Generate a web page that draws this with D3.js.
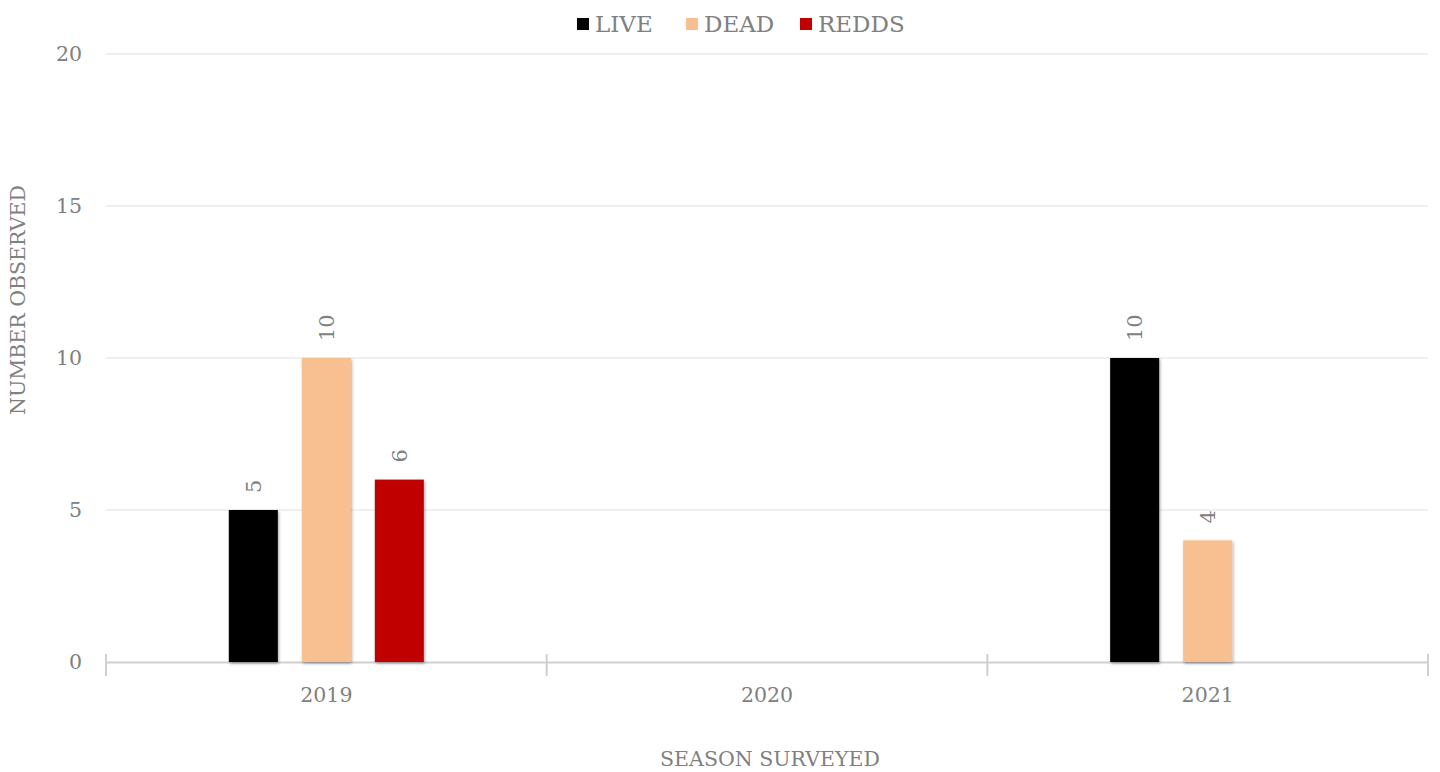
<!DOCTYPE html>
<html><head><meta charset="utf-8">
<script src="https://cdn.jsdelivr.net/npm/d3@7"></script>
<style>body{margin:0;background:#fff}svg{display:block}</style>
</head><body>
<svg id="c" width="1440" height="772"></svg>
<script>
const categories = ["2019", "2020", "2021"];
const seriesNames = ["LIVE", "DEAD", "REDDS"];
const live = [5, 0, 10];
const dead = [10, 0, 4];
const redds = [6, 0, 0];
const yTicks = [0, 5, 10, 15, 20];
const colors = ["#000000", "#f8c090", "#c00000"];
const seriesValues = [live, dead, redds];

const svg = d3.select("#c");
const font = "DejaVu Serif";
const textColor = "#808080";
const m = {l: 106, r: 1428, t: 54, b: 662};

const defs = svg.append("defs");
const f = defs.append("filter").attr("id", "sh").attr("x", "-20%").attr("y", "-5%").attr("width", "150%").attr("height", "115%");
f.append("feDropShadow").attr("dx", 1).attr("dy", 1.5).attr("stdDeviation", 1.5).attr("flood-color", "#000").attr("flood-opacity", 0.35);

const x = d3.scaleBand().domain(categories).range([m.l, m.r]).paddingInner(0).paddingOuter(0);
const y = d3.scaleLinear().domain([0, 20]).range([m.b, m.t]);

// gridlines
svg.append("g").selectAll("line").data(yTicks.filter(d => d > 0)).join("line")
  .attr("x1", m.l).attr("x2", m.r).attr("y1", d => y(d)).attr("y2", d => y(d))
  .attr("stroke", "#ebebeb").attr("stroke-width", 1.5);

// y tick labels
svg.append("g").selectAll("text").data(yTicks).join("text")
  .attr("x", 82).attr("y", d => y(d)).attr("dy", "0.35em").attr("text-anchor", "end")
  .attr("font-family", font).attr("font-size", 20.5).attr("fill", textColor).text(d => d);

// x axis
const xa = svg.append("g").attr("transform", `translate(0,${m.b})`)
  .call(d3.axisBottom(x).tickSize(0).tickPadding(25));
xa.select(".domain").attr("stroke", "#d0d0d0").attr("stroke-width", 2);
xa.selectAll("text").attr("font-family", font).attr("font-size", 20.5).attr("fill", textColor);
const bounds = categories.map(c => x(c)).concat([x(categories[categories.length-1]) + x.bandwidth()]);
svg.append("g").selectAll("line").data(bounds).join("line")
  .attr("x1", d => d).attr("x2", d => d).attr("y1", m.b - 8).attr("y2", m.b + 14)
  .attr("stroke", "#d0d0d0").attr("stroke-width", 2);

// bars
const bw = 49;
const offset = 73;
const data = [];
categories.forEach((c, i) => seriesNames.forEach((s, j) => data.push({c, s, j, v: seriesValues[j][i]})));
const cx = d => x(d.c) + x.bandwidth() / 2 + (d.j - 1) * offset;
svg.append("g").selectAll("rect").data(data.filter(d => d.v > 0)).join("rect")
  .attr("x", d => cx(d) - bw / 2).attr("width", bw)
  .attr("y", d => y(d.v)).attr("height", d => y(0) - y(d.v))
  .attr("fill", d => colors[d.j]).attr("filter", "url(#sh)");

// value labels
svg.append("g").selectAll("text").data(data.filter(d => d.v > 0)).join("text")
  .attr("transform", d => `translate(${cx(d)},${y(d.v) - 17}) rotate(-90)`)
  .attr("dy", "0.35em").attr("text-anchor", "start")
  .attr("font-family", font).attr("font-size", 21).attr("fill", textColor).text(d => d.v);

// axis titles
svg.append("text").attr("x", (m.l + m.r) / 2 + 3).attr("y", 766)
  .attr("text-anchor", "middle").attr("font-family", font).attr("font-size", 20.5).attr("fill", textColor)
  .text("SEASON SURVEYED");
svg.append("text").attr("transform", "translate(25,300) rotate(-90)")
  .attr("text-anchor", "middle").attr("font-family", font).attr("font-size", 20.5).attr("fill", textColor)
  .text("NUMBER OBSERVED");

// legend
const lg = svg.append("g");
const legendX = [577, 686, 800];
seriesNames.forEach((s, j) => {
  const g = lg.append("g").attr("transform", `translate(${legendX[j]},24)`);
  g.append("rect").attr("x", 0).attr("y", -6).attr("width", 12).attr("height", 12).attr("fill", colors[j]);
  g.append("text").attr("x", 18).attr("dy", "0.35em").attr("font-family", font).attr("font-size", 23)
    .attr("fill", textColor).text(s);
});
</script>
</body></html>
